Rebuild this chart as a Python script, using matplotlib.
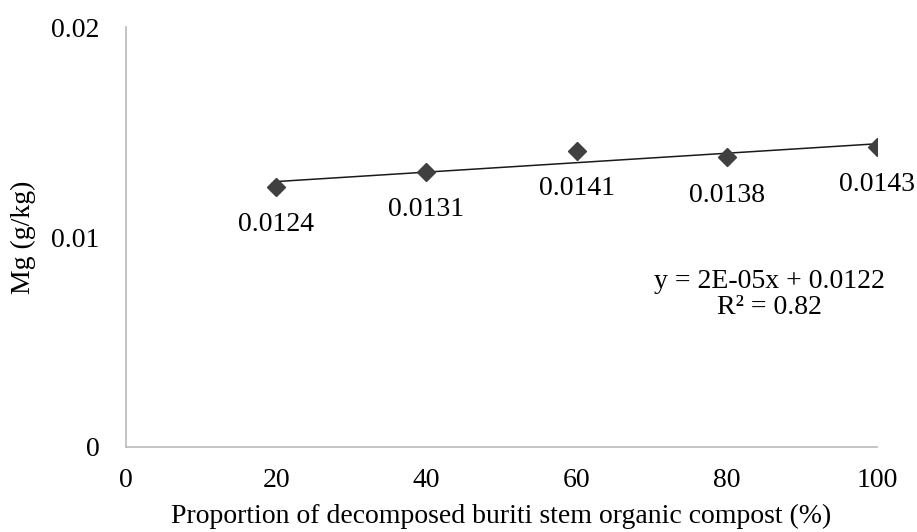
import numpy as np
import matplotlib
matplotlib.use("Agg")
import matplotlib.pyplot as plt

plt.rcParams['font.family'] = ['Liberation Serif', 'DejaVu Serif']

# Mg content for each compost proportion
proportion = [20, 40, 60, 80, 100]
mg = [0.0124, 0.0131, 0.0141, 0.0138, 0.0143]
x_ticks = [0, 20, 40, 60, 80, 100]
y_ticks = [0, 0.01, 0.02]
y_tick_labels = ["0", "0.01", "0.02"]

FS = 20

fig = plt.figure(figsize=(9.17, 5.32), dpi=100)
ax = fig.add_axes([0.1374, 0.1598, 0.9564 - 0.1374, 0.9492 - 0.1598])

# linear trendline
slope, intercept = np.polyfit(proportion, mg, 1)
xs = np.array([proportion[0], proportion[-1]])
ax.plot(xs, slope * xs + intercept, color='#1a1a1a', lw=1.1, zorder=2)

ax.plot(proportion, mg, linestyle='none', marker='D', markersize=9,
        color='#404040', markeredgecolor='#404040', zorder=3)

for x, y in zip(proportion, mg):
    ax.annotate(f"{y:.4f}", (x, y), xytext=(0, -38), textcoords='offset pixels',
                ha='center', va='center', fontsize=FS, color='#000000')

ax.text(0.857, 0.362, "y = 2E-05x + 0.0122\nR² = 0.82", transform=ax.transAxes,
        ha='center', va='center', fontsize=FS, linespacing=1.05)

ax.set_xlim(0, 100)
ax.set_ylim(0, 0.02)
ax.set_xticks(x_ticks)
ax.set_yticks(y_ticks)
ax.set_yticklabels(y_tick_labels)
ax.tick_params(axis='both', length=0, labelsize=FS)
ax.tick_params(axis='x', pad=15)
ax.tick_params(axis='y', pad=19)

for side in ['top', 'right']:
    ax.spines[side].set_visible(False)
for side in ['left', 'bottom']:
    ax.spines[side].set_color('#bfbfbf')
    ax.spines[side].set_linewidth(1.3)

ax.set_xlabel("Proportion of decomposed buriti stem organic compost (%)",
              fontsize=FS, labelpad=8)
ax.set_ylabel("Mg (g/kg)", fontsize=FS, labelpad=11)

fig.savefig("out.png", dpi=100)
